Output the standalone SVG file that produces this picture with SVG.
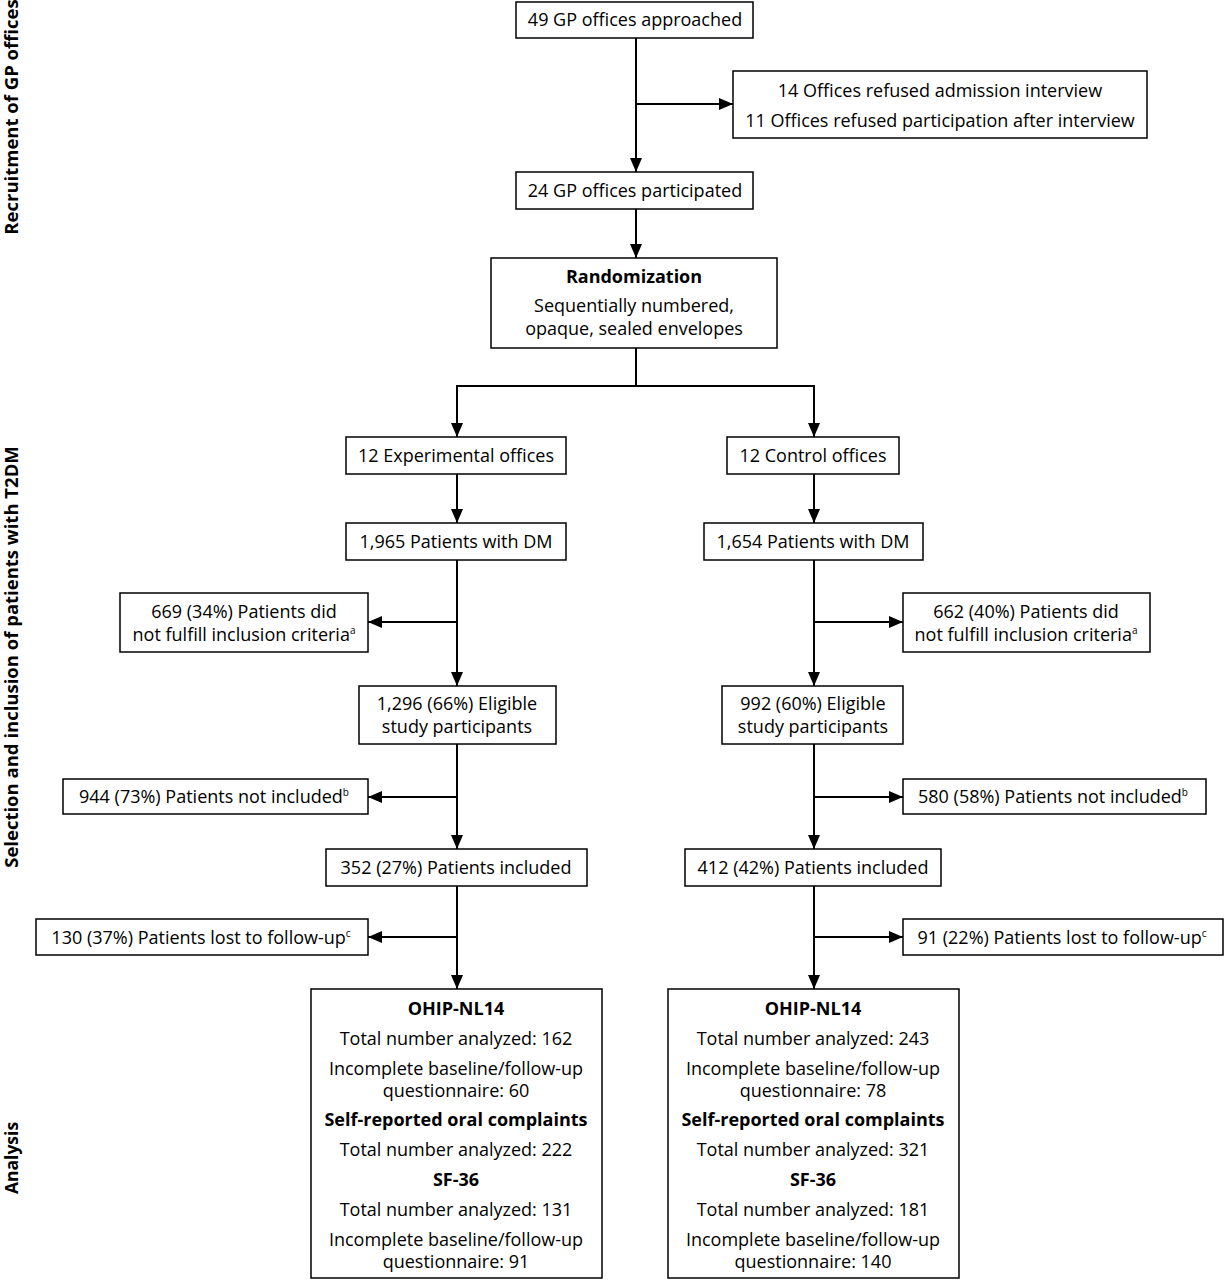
<svg xmlns="http://www.w3.org/2000/svg" width="1224" height="1280" viewBox="0 0 1224 1280">
<defs>
<marker id="ah" markerWidth="14" markerHeight="12" refX="14" refY="6" orient="auto" markerUnits="userSpaceOnUse">
<path d="M0,0 L14,6 L0,12 Z" fill="#000"/>
</marker>
</defs>
<style>
.b{fill:#fff;stroke:#000;stroke-width:1.5}
text{font-family:"Open Sans","Noto Sans",sans-serif;font-size:18px;fill:#000;text-anchor:middle}
.bold{font-weight:bold}
.side{font-weight:bold;font-size:18.5px}
.c{fill:none;stroke:#000;stroke-width:2}
.sup{font-size:10px}
</style>
<rect width="1224" height="1280" fill="#fff"/>
<g id="labels">
<text class="side" transform="translate(18,117) rotate(-90)">Recruitment of GP offices</text>
<text class="side" transform="translate(18,657) rotate(-90)">Selection and inclusion of patients with T2DM</text>
<text class="side" style="font-size:17.5px" transform="translate(18,1158) rotate(-90)">Analysis</text>
</g>
<g id="connectors">
<path class="c" d="M636,38 V172" marker-end="url(#ah)"/>
<path class="c" d="M636,104 H733" marker-end="url(#ah)"/>
<path class="c" d="M636,209 V258" marker-end="url(#ah)"/>
<path class="c" d="M636,348 V386 H457 V437" marker-end="url(#ah)"/>
<path class="c" d="M636,386 H814 V437" marker-end="url(#ah)"/>
<path class="c" d="M457,474 V523" marker-end="url(#ah)"/>
<path class="c" d="M814,474 V523" marker-end="url(#ah)"/>
<path class="c" d="M457,560 V686" marker-end="url(#ah)"/>
<path class="c" d="M457,622 H368" marker-end="url(#ah)"/>
<path class="c" d="M814,560 V686" marker-end="url(#ah)"/>
<path class="c" d="M814,622 H903" marker-end="url(#ah)"/>
<path class="c" d="M457,744 V849" marker-end="url(#ah)"/>
<path class="c" d="M457,797 H368" marker-end="url(#ah)"/>
<path class="c" d="M814,744 V849" marker-end="url(#ah)"/>
<path class="c" d="M814,797 H903" marker-end="url(#ah)"/>
<path class="c" d="M457,886 V989" marker-end="url(#ah)"/>
<path class="c" d="M457,937 H368" marker-end="url(#ah)"/>
<path class="c" d="M814,886 V989" marker-end="url(#ah)"/>
<path class="c" d="M814,937 H903" marker-end="url(#ah)"/>
</g>
<g id="n1"><rect class="b" x="516" y="2" width="237" height="36"/><text x="635" y="26">49 GP offices approached</text></g>
<g id="n2"><rect class="b" x="733" y="71" width="414" height="67"/><text x="940" y="97">14 Offices refused admission interview</text><text x="940" y="127">11 Offices refused participation after interview</text></g>
<g id="n3"><rect class="b" x="516" y="172" width="237" height="37"/><text x="635" y="197">24 GP offices participated</text></g>
<g id="n4"><rect class="b" x="491" y="258" width="286" height="90"/><text class="bold" x="634" y="283">Randomization</text><text x="634" y="312">Sequentially numbered,</text><text x="634" y="335">opaque, sealed envelopes</text></g>
<g id="n5"><rect class="b" x="346" y="437" width="220" height="37"/><text x="456" y="462">12 Experimental offices</text></g>
<g id="n6"><rect class="b" x="727" y="437" width="172" height="37"/><text x="813" y="462">12 Control offices</text></g>
<g id="n7"><rect class="b" x="346" y="523" width="220" height="37"/><text x="456" y="548">1,965 Patients with DM</text></g>
<g id="n8"><rect class="b" x="704" y="523" width="219" height="37"/><text x="813" y="548">1,654 Patients with DM</text></g>
<g id="n9"><rect class="b" x="120" y="593" width="248" height="59"/><text x="244" y="618">669 (34%) Patients did</text><text x="244" y="641">not fulfill inclusion criteria<tspan class="sup" dy="-7">a</tspan></text></g>
<g id="n10"><rect class="b" x="903" y="593" width="247" height="59"/><text x="1026" y="618">662 (40%) Patients did</text><text x="1026" y="641">not fulfill inclusion criteria<tspan class="sup" dy="-7">a</tspan></text></g>
<g id="n11"><rect class="b" x="359" y="686" width="197" height="58"/><text x="457" y="710">1,296 (66%) Eligible</text><text x="457" y="733">study participants</text></g>
<g id="n12"><rect class="b" x="722" y="686" width="181" height="58"/><text x="813" y="710">992 (60%) Eligible</text><text x="813" y="733">study participants</text></g>
<g id="n13"><rect class="b" x="63" y="779" width="305" height="35"/><text x="214" y="803">944 (73%) Patients not included<tspan class="sup" dy="-7">b</tspan></text></g>
<g id="n14"><rect class="b" x="903" y="779" width="303" height="35"/><text x="1053" y="803">580 (58%) Patients not included<tspan class="sup" dy="-7">b</tspan></text></g>
<g id="n15"><rect class="b" x="326" y="849" width="261" height="37"/><text x="456" y="874">352 (27%) Patients included</text></g>
<g id="n16"><rect class="b" x="685" y="849" width="256" height="37"/><text x="813" y="874">412 (42%) Patients included</text></g>
<g id="n17"><rect class="b" x="36" y="919" width="332" height="36"/><text x="201" y="944">130 (37%) Patients lost to follow-up<tspan class="sup" dy="-7">c</tspan></text></g>
<g id="n18"><rect class="b" x="903" y="919" width="320" height="36"/><text x="1062" y="944">91 (22%) Patients lost to follow-up<tspan class="sup" dy="-7">c</tspan></text></g>
<g id="n19"><rect class="b" x="311" y="989" width="291" height="289"/>
<text class="bold" x="456" y="1015">OHIP-NL14</text>
<text x="456" y="1045">Total number analyzed: 162</text>
<text x="456" y="1075">Incomplete baseline/follow-up</text>
<text x="456" y="1097">questionnaire: 60</text>
<text class="bold" x="456" y="1126">Self-reported oral complaints</text>
<text x="456" y="1156">Total number analyzed: 222</text>
<text class="bold" x="456" y="1186">SF-36</text>
<text x="456" y="1216">Total number analyzed: 131</text>
<text x="456" y="1246">Incomplete baseline/follow-up</text>
<text x="456" y="1268">questionnaire: 91</text>
</g>
<g id="n20"><rect class="b" x="668" y="989" width="291" height="289"/>
<text class="bold" x="813" y="1015">OHIP-NL14</text>
<text x="813" y="1045">Total number analyzed: 243</text>
<text x="813" y="1075">Incomplete baseline/follow-up</text>
<text x="813" y="1097">questionnaire: 78</text>
<text class="bold" x="813" y="1126">Self-reported oral complaints</text>
<text x="813" y="1156">Total number analyzed: 321</text>
<text class="bold" x="813" y="1186">SF-36</text>
<text x="813" y="1216">Total number analyzed: 181</text>
<text x="813" y="1246">Incomplete baseline/follow-up</text>
<text x="813" y="1268">questionnaire: 140</text>
</g>
</svg>
